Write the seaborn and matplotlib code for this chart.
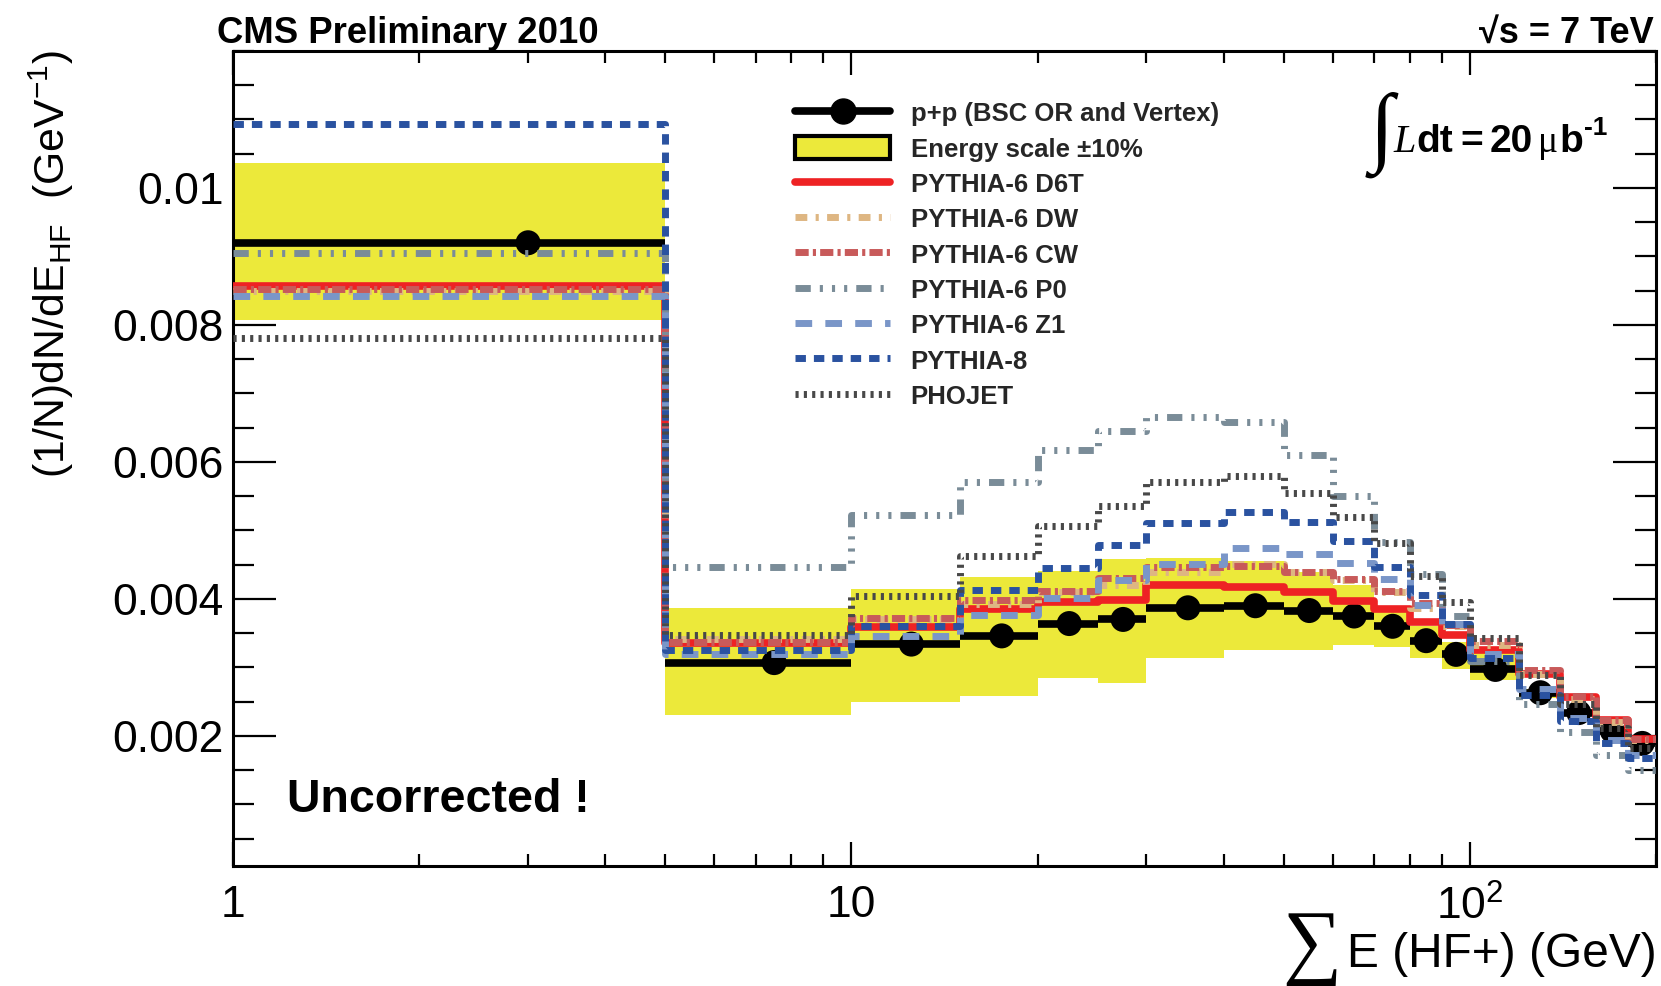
import numpy as np
import matplotlib
matplotlib.use("Agg")
import matplotlib.pyplot as plt
from matplotlib.lines import Line2D
from matplotlib.patches import Patch
from matplotlib.textpath import TextPath
from matplotlib.font_manager import FontProperties
from matplotlib.ticker import (FixedLocator, FixedFormatter, MultipleLocator,
                               NullFormatter, LogLocator)
import seaborn as sns

# ---------------------------------------------------------------------------
# Binned spectra: sum of energy in HF+ (GeV), normalised per event
# ---------------------------------------------------------------------------
bin_edges = [1, 5, 10, 15, 20, 25, 30, 40, 50, 60, 70, 80, 90, 100,
             120, 140, 160, 180, 200]

data_pp = [0.00920, 0.00307, 0.00334, 0.00346, 0.00364, 0.00370, 0.00387,
           0.00390, 0.00383, 0.00375, 0.00360, 0.00339, 0.00319, 0.00297,
           0.00263, 0.00234, 0.00207, 0.00189]

escale_lo = [0.00807, 0.00230, 0.00250, 0.00258, 0.00285, 0.00277, 0.00313,
             0.00326, 0.00326, 0.00332, 0.00330, 0.00313, 0.00298, 0.00281,
             0.00256, 0.00229, 0.00203, 0.00186]
escale_hi = [0.01036, 0.00386, 0.00415, 0.00432, 0.00441, 0.00458, 0.00460,
             0.00455, 0.00440, 0.00421, 0.00390, 0.00361, 0.00337, 0.00327,
             0.00269, 0.00238, 0.00211, 0.00192]

pythia6_d6t = [0.00857, 0.00336, 0.00359, 0.00385, 0.00396, 0.00399, 0.00420,
               0.00417, 0.00410, 0.00397, 0.00385, 0.00366, 0.00348, 0.00325,
               0.00290, 0.00257, 0.00223, 0.00196]
pythia6_dw = [0.00850, 0.00342, 0.00371, 0.00392, 0.00410, 0.00420, 0.00439,
              0.00451, 0.00440, 0.00428, 0.00410, 0.00386, 0.00361, 0.00332,
              0.00291, 0.00254, 0.00220, 0.00194]
pythia6_cw = [0.00852, 0.00337, 0.00372, 0.00399, 0.00412, 0.00430, 0.00446,
              0.00448, 0.00439, 0.00429, 0.00411, 0.00394, 0.00362, 0.00338,
              0.00296, 0.00258, 0.00223, 0.00196]
pythia6_p0 = [0.00905, 0.00446, 0.00522, 0.00571, 0.00618, 0.00645, 0.00665,
              0.00659, 0.00610, 0.00550, 0.00483, 0.00437, 0.00375, 0.00310,
              0.00247, 0.00206, 0.00172, 0.00150]
pythia6_z1 = [0.00842, 0.00319, 0.00346, 0.00376, 0.00402, 0.00428, 0.00451,
              0.00474, 0.00466, 0.00452, 0.00429, 0.00391, 0.00364, 0.00320,
              0.00269, 0.00226, 0.00194, 0.00172]
pythia8 = [0.01093, 0.00325, 0.00360, 0.00413, 0.00445, 0.00479, 0.00511,
           0.00527, 0.00513, 0.00484, 0.00447, 0.00405, 0.00364, 0.00314,
           0.00259, 0.00221, 0.00190, 0.00167]
phojet = [0.00781, 0.00348, 0.00404, 0.00463, 0.00506, 0.00535, 0.00570,
          0.00580, 0.00555, 0.00519, 0.00482, 0.00434, 0.00396, 0.00343,
          0.00289, 0.00247, 0.00211, 0.00182]

x_ticks = [1, 10, 100]
x_tick_labels = ["1", "10", r"$\mathregular{10^{2}}$"]
y_ticks = [0.002, 0.004, 0.006, 0.008, 0.01]
y_tick_labels = ["0.002", "0.004", "0.006", "0.008", "0.01"]

# Generator curves: label, values, colour, dash pattern (in line widths)
models = [
    ("PYTHIA-6 D6T", pythia6_d6t, "#ee2224", None),
    ("PYTHIA-6 DW", pythia6_dw, "#deb682", (1.7, 1.2, 0.45, 1.2)),
    ("PYTHIA-6 CW", pythia6_cw, "#c85a5a", (1.9, 0.6, 0.45, 0.6)),
    ("PYTHIA-6 P0", pythia6_p0, "#7a8c98",
     (2.2, 1.3, 0.45, 1.3, 0.45, 1.3, 0.45, 1.3)),
    ("PYTHIA-6 Z1", pythia6_z1, "#7a96c8", (2.4, 1.9)),
    ("PYTHIA-8", pythia8, "#2a52a0", (1.5, 1.15)),
    ("PHOJET", phojet, "#484848", (0.45, 0.75)),
]
band_color = "#ece93a"

# ---------------------------------------------------------------------------
W, H = 1661, 986
sns.set_theme(style="ticks")
plt.rcParams["font.family"] = ["Liberation Sans", "DejaVu Sans"]
plt.rcParams["mathtext.fontset"] = "custom"
plt.rcParams["mathtext.rm"] = "Liberation Sans"
plt.rcParams["mathtext.it"] = "Liberation Sans:italic"
plt.rcParams["mathtext.bf"] = "Liberation Sans:bold"
plt.rcParams["axes.linewidth"] = 2.2
plt.rcParams["axes.edgecolor"] = "black"

fig = plt.figure(figsize=(W / 100, H / 100), dpi=100)
fig.patch.set_facecolor("white")
ax = fig.add_axes([233 / W, 1 - 866 / H, (1656 - 233) / W, (866 - 51) / H])
ax.set_facecolor("white")
ax.set_xscale("log")

edges = np.array(bin_edges, dtype=float)
lo_edges, hi_edges = edges[:-1], edges[1:]
centers = 0.5 * (lo_edges + hi_edges)

# Energy-scale uncertainty band
ax.stairs(escale_hi, edges, baseline=escale_lo, fill=True,
          color=band_color, lw=0, zorder=1)

# Data: bin-width bars and markers
ax.hlines(data_pp, lo_edges, hi_edges, color="black", lw=5.5, zorder=3)
sns.scatterplot(x=centers, y=data_pp, s=18 ** 2, color="black",
                edgecolor="none", zorder=4, ax=ax, legend=False)

# Generator predictions as step histograms
legend_handles = [
    Line2D([], [], color="black", lw=5.5, marker="o", markersize=18),
    Patch(facecolor=band_color, edgecolor="black", lw=3),
]
legend_labels = ["p+p (BSC OR and Vertex)", "Energy scale \u00b110%"]
for i, (label, vals, color, dash) in enumerate(models):
    ls = "-" if dash is None else (0, dash)
    lw = 5.5 if dash is None else 5.0
    sns.lineplot(x=edges, y=list(vals) + [vals[-1]], drawstyle="steps-post",
                 color=color, lw=lw, linestyle=ls, estimator=None,
                 sort=False, ax=ax, zorder=5 + i, legend=False)
    legend_handles.append(Line2D([], [], color=color, lw=lw, linestyle=ls))
    legend_labels.append(label)

ax.set_xlim(1, 200)
ax.set_ylim(0.0001, 0.012)

# Axes, ticks and tick labels
ax.xaxis.set_major_locator(FixedLocator(x_ticks))
ax.xaxis.set_major_formatter(FixedFormatter(x_tick_labels))
ax.xaxis.set_minor_locator(LogLocator(base=10, subs=np.arange(2, 10)))
ax.xaxis.set_minor_formatter(NullFormatter())
ax.yaxis.set_major_locator(FixedLocator(y_ticks))
ax.yaxis.set_major_formatter(FixedFormatter(y_tick_labels))
ax.yaxis.set_minor_locator(MultipleLocator(0.0005))

ax.tick_params(which="both", direction="in", top=True, right=True,
               colors="black", width=1.6, labelsize=32)
ax.tick_params(axis="y", which="major", length=31, pad=7)
ax.tick_params(axis="y", which="minor", length=15)
ax.tick_params(axis="x", which="major", length=17, pad=14)
ax.tick_params(axis="x", which="minor", length=8.5)
for sp in ax.spines.values():
    sp.set_visible(True)
    sp.set_linewidth(2.2)
    sp.set_color("black")
ax.grid(False)
ax.set_xlabel("")
ax.set_ylabel("")


def fpos(x, y):
    """Pixel position (from the top-left corner) to figure fraction."""
    return x / W, 1 - y / H


def glyph_in_box(s, family, box, **kw):
    """Draw a single large symbol so that its ink fills box=(x0, y0, x1, y1)."""
    fp = FontProperties(family=family)
    ext = TextPath((0, 0), s, size=100, prop=fp).get_extents()
    size_px = 100 * (box[3] - box[1]) / ext.height
    k = size_px / 100
    left = box[0] - ext.x0 * k
    baseline = box[3] + ext.y0 * k
    return fig.text(*fpos(left, baseline), s, ha="left", va="baseline",
                    fontsize=size_px * 72 / 100, family=family,
                    color="black", **kw)


# Axis titles
fig.text(*fpos(65, 50),
         r"(1/N)dN/dE$_{\mathregular{HF}}$  (GeV$^{\mathregular{-1}}$)",
         rotation=90, rotation_mode="anchor", ha="right", va="baseline",
         fontsize=30.8, color="black")
fig.text(*fpos(1657, 967), "E (HF+) (GeV)", ha="right", va="baseline",
         fontsize=34.5, color="black")
glyph_in_box("\u2211", ["Liberation Serif", "DejaVu Serif"],
             (1286, 914, 1341, 986))

# Header texts
fig.text(*fpos(217, 43), "CMS Preliminary 2010", ha="left", va="baseline",
         fontsize=26.3, fontweight="bold", color="black")
fig.text(*fpos(1654, 43), "\u221as = 7 TeV", ha="right", va="baseline",
         fontsize=26, fontweight="bold", color="black")

# Integrated luminosity, laid out piece by piece from measured extents
narrow = ["Liberation Sans Narrow", "Liberation Sans"]
serif = ["Liberation Serif", "DejaVu Serif"]
glyph_in_box("\u222b", serif, (1365, 92, 1390, 178))
renderer = fig.canvas.get_renderer()
lumi_base = 152
lumi_pieces = [
    # text, gap before (px), y (px from top), vertical anchor, font kwargs
    ("L", 0, lumi_base, "baseline",
     dict(fontsize=29, style="italic", family=serif)),
    ("dt", 1, lumi_base, "baseline",
     dict(fontsize=28, fontweight="bold", family=narrow)),
    ("=", 7, lumi_base, "baseline",
     dict(fontsize=28, fontweight="bold", family=narrow)),
    ("20", 7, lumi_base, "baseline",
     dict(fontsize=28, fontweight="bold", family=narrow)),
    ("\u03bc", 5, lumi_base, "baseline", dict(fontsize=27, family=serif)),
    ("b", 1, lumi_base, "baseline",
     dict(fontsize=28, fontweight="bold", family=narrow)),
    ("-1", 1, 116, "top", dict(fontsize=19, fontweight="bold",
                               family=narrow)),
]
x_cursor = 1393
for s, gap, y, va, kw in lumi_pieces:
    x_cursor += gap
    t = fig.text(*fpos(x_cursor, y), s, ha="left", va=va, color="black",
                 **kw)
    x_cursor = t.get_window_extent(renderer).x1

fig.text(*fpos(287, 812), "Uncorrected !", ha="left", va="baseline",
         fontsize=33.5, fontweight="bold", color="black")

# Legend
fig.legend(legend_handles, legend_labels, loc="upper left",
           bbox_to_anchor=fpos(795, 101), bbox_transform=fig.transFigure,
           frameon=False, prop=dict(family="Liberation Sans", weight="bold",
                                    size=18.5),
           handlelength=3.7, handleheight=1.0, handletextpad=0.8,
           labelspacing=0.39, borderpad=0, borderaxespad=0, numpoints=1)

fig.savefig("out.png", dpi=100, facecolor="white")
